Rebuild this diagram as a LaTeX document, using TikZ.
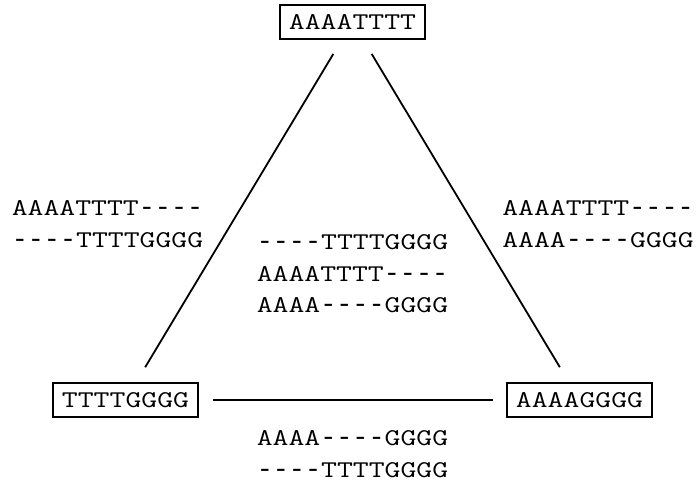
\documentclass[tikz,border=0pt]{standalone}
\usepackage{fontspec}
\newfontfamily\seqfont[FakeStretch=1.285, Ligatures=TeXOff]{Latin Modern Mono}
\newfontfamily\dashfont[FakeStretch=1.0, Ligatures=TeXOff]{Liberation Mono}
\newcommand\hy{{\dashfont\fontsize{26.8}{31.5}\selectfont-}}
\newcommand\hyq{\hy\hy\hy\hy}
\begin{document}
\begin{tikzpicture}[x=1pt,y=-1pt,
  seq/.style={font=\seqfont\fontsize{24}{31.5}\selectfont, inner sep=0pt, align=center},
  seqbox/.style={seq, draw, line width=2.4pt, minimum width=145pt, minimum height=34pt},
  link/.style={line width=1.8pt}]
\useasboundingbox (0,0) rectangle (698,482);
\node[seqbox] (top) at (352.5,22) {AAAATTTT};
\node[seqbox] (left) at (125.5,400) {TTTTGGGG};
\node[seqbox] (right) at (579.5,400) {AAAAGGGG};
\draw[link, shorten <=16pt, shorten >=17pt] (top) -- (left);
\draw[link, shorten <=16pt, shorten >=17pt] (top) -- (right);
\draw[link, shorten <=14pt, shorten >=13pt] (left) -- (right);
\node[seq] (lablL) at (107.5,224) {AAAATTTT\hyq\\\hyq TTTTGGGG};
\node[seq] (lablR) at (598,224) {AAAATTTT\hyq\\AAAA\hyq GGGG};
\node[seq] (lablC) at (352.5,274) {\hyq TTTTGGGG\\AAAATTTT\hyq\\AAAA\hyq GGGG};
\node[seq] (lablB) at (352.5,454) {AAAA\hyq GGGG\\\hyq TTTTGGGG};
\end{tikzpicture}
\end{document}
